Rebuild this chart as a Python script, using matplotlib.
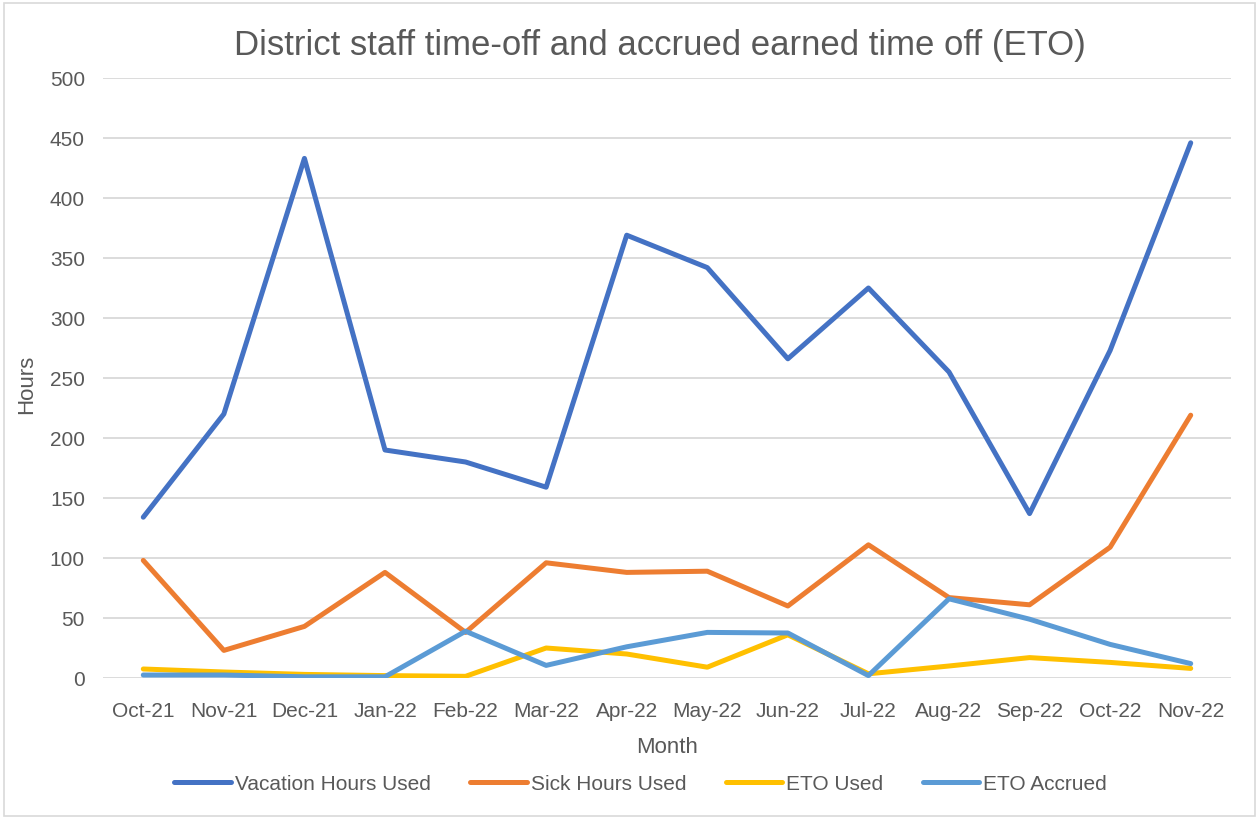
import matplotlib.pyplot as plt
from matplotlib.patches import Rectangle

# chart data
months = ['Oct-21', 'Nov-21', 'Dec-21', 'Jan-22', 'Feb-22', 'Mar-22', 'Apr-22',
          'May-22', 'Jun-22', 'Jul-22', 'Aug-22', 'Sep-22', 'Oct-22', 'Nov-22']
vacation_used = [134, 220, 433, 190, 180, 159, 369, 342, 266, 325, 255, 137, 273, 446]
sick_used = [98, 23, 43, 88, 38, 96, 88, 89, 60, 111, 67, 61, 109, 219]
eto_used = [7.5, 5, 3, 2, 1.4, 25, 20, 9, 36, 3.5, 10, 17, 13, 8]
eto_accrued = [2.5, 2.5, 1, 1, 39, 10.5, 26, 38, 37.5, 2, 66, 49, 28, 12]
yticks = [0, 50, 100, 150, 200, 250, 300, 350, 400, 450, 500]

series = [
    ('Vacation Hours Used', vacation_used, '#4472C4'),
    ('Sick Hours Used', sick_used, '#ED7D31'),
    ('ETO Used', eto_used, '#FFC000'),
    ('ETO Accrued', eto_accrued, '#5B9BD5'),
]

plt.rcParams['font.family'] = ['Liberation Sans', 'DejaVu Sans']
text_color = '#595959'

fig = plt.figure(figsize=(12.59, 8.21), dpi=100)
fig.patches.append(Rectangle((0.003, 0.006), 0.994, 0.99, transform=fig.transFigure,
                             fill=False, edgecolor='#D9D9D9', linewidth=1.2))

ax = fig.add_axes([103 / 1259, 1 - 678 / 821, (1231 - 103) / 1259, 600 / 821])
x = list(range(len(months)))
for label, vals, color in series:
    ax.plot(x, vals, color=color, linewidth=3.6, solid_capstyle='round',
            solid_joinstyle='round', label=label)

ax.set_xlim(-0.5, len(months) - 0.5)
ax.set_ylim(0, 500)
ax.set_yticks(yticks)
ax.set_xticks(x)
ax.set_xticklabels(months)
ax.grid(axis='y', color='#D9D9D9', linewidth=1.3)
ax.set_axisbelow(True)
for s in ax.spines.values():
    s.set_visible(False)
ax.tick_params(length=0, labelsize=15, colors=text_color)
ax.tick_params(axis='x', pad=17)
ax.tick_params(axis='y', pad=13)

ax.set_xlabel('Month', fontsize=16, color=text_color, labelpad=12)
ax.set_ylabel('Hours', fontsize=16, color=text_color)
ax.yaxis.set_label_coords(-0.058, 0.49)

fig.text(0.524, 0.944, 'District staff time-off and accrued earned time off (ETO)',
         ha='center', va='center', fontsize=25, color=text_color)

leg = fig.legend(loc='center', bbox_to_anchor=(0.509, 0.045), ncol=4, frameon=False,
                 fontsize=15, handlelength=2.7, columnspacing=1.9, handletextpad=0.2)
for t in leg.get_texts():
    t.set_color(text_color)

fig.savefig('out.png', dpi=100)
